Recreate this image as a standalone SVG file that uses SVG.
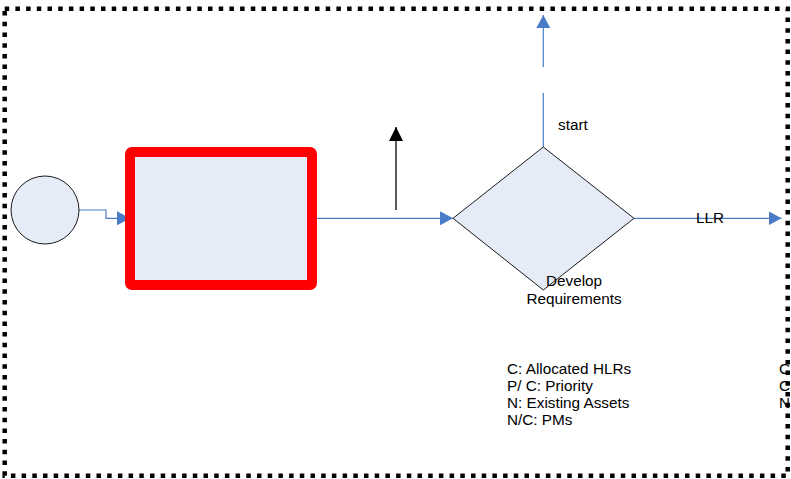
<svg xmlns="http://www.w3.org/2000/svg" width="791" height="479" viewBox="0 0 791 479">
  <style>
    .shape { fill: #E6ECF7; stroke: #1a1a1a; stroke-width: 1; }
    .conn { fill: none; stroke: #4A7BC8; stroke-width: 1.2; }
    .lbl { font-family: "Liberation Sans", Arial, sans-serif; font-size: 15.3px; fill: #000; }
  </style>
  <defs>
    <marker id="blueHead" markerWidth="14" markerHeight="14" refX="13" refY="7" orient="auto" markerUnits="userSpaceOnUse">
      <path d="M0,0 L13,7 L0,14 Z" fill="#4A7BC8"/>
    </marker>
    <marker id="blackHead" markerWidth="14" markerHeight="15" refX="14" refY="7" orient="auto" markerUnits="userSpaceOnUse">
      <path d="M0,0 L14,7 L0,14 Z" fill="#000"/>
    </marker>
  </defs>

  <rect width="791" height="479" fill="#fff"/>

  <!-- dotted frame -->
  <rect id="frame" x="4.7" y="8.7" width="783" height="467" fill="none" stroke="#000" stroke-width="4.5" stroke-dasharray="4.5 6.2"/>

  <!-- connectors -->
  <g id="connectors">
    <path class="conn" d="M79,210 H106 V218.3 H130" marker-end="url(#blueHead)"/>
    <path class="conn" d="M312,218.3 H453" marker-end="url(#blueHead)"/>
    <path d="M396,210 V127" fill="none" stroke="#000" stroke-width="1.3" marker-end="url(#blackHead)"/>
    <path class="conn" d="M543.3,147 V93"/>
    <path class="conn" d="M543.3,67 V15" marker-end="url(#blueHead)"/>
    <path class="conn" d="M634,218.3 H781.5" marker-end="url(#blueHead)"/>
    <text class="lbl" x="558" y="130">start</text>
    <text class="lbl" x="710" y="223" text-anchor="middle">LLR</text>
  </g>

  <!-- start event -->
  <g id="startNode">
    <circle class="shape" cx="45" cy="210" r="34"/>
  </g>

  <!-- highlighted process box -->
  <g id="processNode">
    <rect x="130" y="152" width="182" height="133" rx="2" fill="#E6ECF7" stroke="#FF0000" stroke-width="10"/>
  </g>

  <!-- decision -->
  <g id="decisionNode">
    <polygon class="shape" points="453,218.3 543.3,147 634,218.3 543.3,290"/>
    <text class="lbl" x="574" y="286" text-anchor="middle">Develop</text>
    <text class="lbl" x="574" y="304" text-anchor="middle">Requirements</text>
  </g>

  <!-- inputs list -->
  <g id="inputsNote">
    <text class="lbl" x="507" y="374">C: Allocated HLRs</text>
    <text class="lbl" x="507" y="391">P/ C: Priority</text>
    <text class="lbl" x="507" y="408">N: Existing Assets</text>
    <text class="lbl" x="507" y="425">N/C: PMs</text>
  </g>

  <g id="inputsNoteRight">
    <text class="lbl" x="779" y="374">C</text>
    <text class="lbl" x="779" y="391">C</text>
    <text class="lbl" x="779" y="408">N</text>
  </g>
</svg>
